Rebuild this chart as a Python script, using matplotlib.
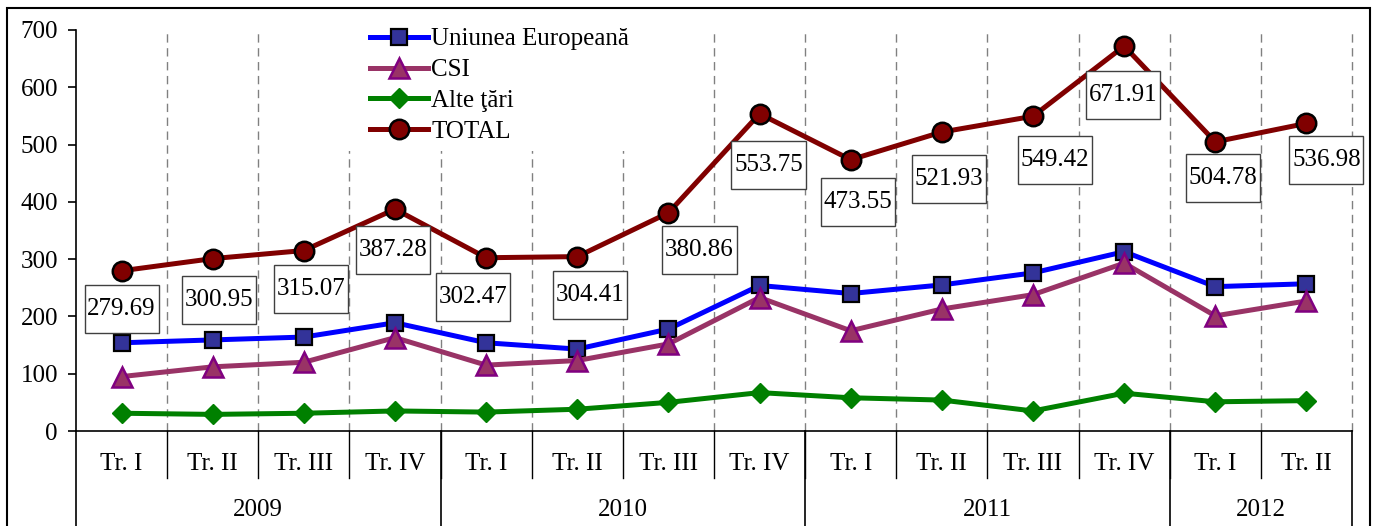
import matplotlib
matplotlib.use("Agg")
import matplotlib.pyplot as plt
from matplotlib.path import Path
from matplotlib.patches import Rectangle
import numpy as np

plt.rcParams['font.family'] = ['Liberation Serif', 'DejaVu Serif']

quarters = ["Tr. I", "Tr. II", "Tr. III", "Tr. IV",
            "Tr. I", "Tr. II", "Tr. III", "Tr. IV",
            "Tr. I", "Tr. II", "Tr. III", "Tr. IV",
            "Tr. I", "Tr. II"]
years = ["2009", "2010", "2011", "2012"]
year_counts = [4, 4, 4, 2]

ue = [154, 159, 164, 189, 154, 143, 178, 254, 240, 255, 276, 313, 252, 257]
csi = [95, 112, 120, 163, 115, 123, 152, 233, 175, 213, 238, 293, 201, 227]
alte = [31, 29, 31, 35, 33, 38, 50, 67, 58, 54, 35, 66, 51, 53]
total = [279.69, 300.95, 315.07, 387.28, 302.47, 304.41, 380.86, 553.75,
         473.55, 521.93, 549.42, 671.91, 504.78, 536.98]

series_names = ["Uniunea Europeană", "CSI", "Alte ţări", "TOTAL"]
yticks = [0, 100, 200, 300, 400, 500, 600, 700]

# label offsets in pixels (dx right, dy down)
label_offsets = [(0, 38), (6, 41), (7, 38), (-2, 41), (-13, 39), (13, 38), (31, 37),
                 (9, 51), (7, 42), (7, 47), (22, 44), (-1, 49), (8, 36), (20, 37)]

FS = 18
W, H = 1375, 526
fig = plt.figure(figsize=(W / 100, H / 100), dpi=100)
ax = fig.add_axes([76 / W, (H - 431) / H, 1276 / W, 401 / H])

n = len(quarters)
x = np.arange(n)
ax.set_xlim(-0.5, n - 0.5)
ax.set_ylim(0, 700)

# dashed vertical grid
for b in np.arange(0.5, n, 1.0):
    ax.axvline(b, color='#808080', lw=1.0, ls=(0, (6, 4)), zorder=0.5, clip_on=False)

# white patch behind legend
fig.patches.append(Rectangle((342 / W, 1 - 151 / H), 300 / W, 135 / H,
                             transform=fig.transFigure, facecolor='white',
                             edgecolor='none', zorder=0.8))

ax.plot(x, ue, color='#0000FF', lw=3.6, marker='s', ms=12, mfc='#333399',
        mec='black', mew=1.6, label=series_names[0], zorder=3, clip_on=False)
ax.plot(x, csi, color='#993366', lw=3.6, marker='^', ms=14, mfc='#993366',
        mec='#800080', mew=1.8, label=series_names[1], zorder=3, clip_on=False)
ax.plot(x, alte, color='#008000', lw=3.6, marker='D', ms=10.5, mfc='#008000',
        mec='#008000', mew=1, label=series_names[2], zorder=3, clip_on=False)
ax.plot(x, total, color='#800000', lw=3.6, marker='o', ms=14, mfc='#800000',
        mec='black', mew=1.8, label=series_names[3], zorder=3, clip_on=False)


def tallbox(x0, y0, width, height, mutation_size):
    px = 0.11 * mutation_size
    py = 0.52 * mutation_size
    x0 -= px
    y0 -= py
    x1 = x0 + width + 2 * px
    y1 = y0 + height + 2 * py
    return Path([(x0, y0), (x1, y0), (x1, y1), (x0, y1), (x0, y0)],
                closed=True)


for i, v in enumerate(total):
    dx, dy = label_offsets[i]
    ax.annotate(f"{v:.2f}", (x[i], v), xytext=(dx, -dy), textcoords='offset pixels',
                ha='center', va='center', fontsize=FS, zorder=5,
                bbox=dict(boxstyle=tallbox, facecolor='white', edgecolor='#404040', lw=1.0))

# axes styling
for s in ['top', 'right']:
    ax.spines[s].set_visible(False)
ax.spines['left'].set_linewidth(1.2)
ax.spines['bottom'].set_linewidth(1.2)
ax.set_yticks(yticks)
ax.set_yticklabels([str(t) for t in yticks], fontsize=FS)
ax.tick_params(axis='y', direction='out', length=6, width=1.2, pad=7)
ax.set_xticks([])

# category table below axis
tr = ax.get_xaxis_transform()
qbottom = -47 / 401
ybottom = -0.4
for b in np.arange(0.5, n - 0.5, 1.0):
    ax.plot([b, b], [0, qbottom], color='black', lw=1.0, transform=tr, clip_on=False)
edges = np.concatenate([[0], np.cumsum(year_counts)]) - 0.5
for e in edges:
    ax.plot([e, e], [0, ybottom], color='black', lw=1.2, transform=tr, clip_on=False)
for i, q in enumerate(quarters):
    ax.text(x[i], -33 / 401, q, transform=tr, ha='center', va='center', fontsize=FS)
for j, yname in enumerate(years):
    c = (edges[j] + edges[j + 1]) / 2
    ax.text(c, -79 / 401, yname, transform=tr, ha='center', va='center', fontsize=FS)

leg = fig.legend(loc='upper left', bbox_to_anchor=(370 / W, 1 - 28 / H),
                 fontsize=FS, frameon=False, handlelength=2.3, handletextpad=0.15,
                 labelspacing=0.33, borderpad=0, borderaxespad=0)
leg.set_zorder(6)

# outer frame
fig.patches.append(Rectangle((7 / W, -0.05), (1370 - 7) / W, 1.05 - 8 / H,
                             transform=fig.transFigure, facecolor='none',
                             edgecolor='black', lw=1.5, zorder=10))

fig.savefig("out.png", dpi=100)
